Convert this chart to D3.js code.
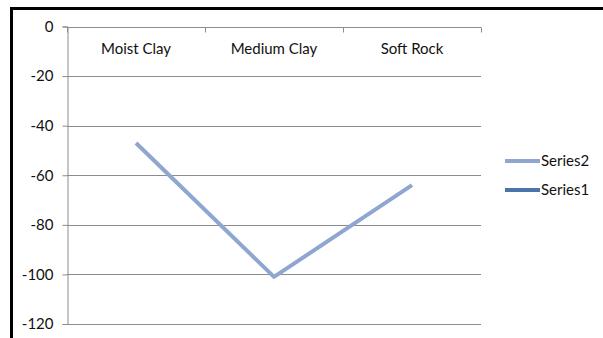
<!DOCTYPE html>
<html>
<head>
<meta charset="utf-8">
<script src="https://cdn.jsdelivr.net/npm/d3@7"></script>
<style>
  html, body { margin: 0; padding: 0; background: #fff; }
  svg { display: block; }
  text { font-family: Lato, "Open Sans", sans-serif; font-size: 15px; fill: #111; }
</style>
</head>
<body>
<svg id="chart" width="603" height="338"></svg>
<script>
// Chart data
const categories = ["Moist Clay", "Medium Clay", "Soft Rock"];
const series2 = [-47, -101, -64];
const series1 = [null, null, null];
const yTicks = [0, -20, -40, -60, -80, -100, -120];
const legendNames = ["Series2", "Series1"];
const legendColors = ["#8EA6D0", "#4A74AA"];

const svg = d3.select("#chart");

// Frame around the chart
svg.append("rect")
  .attr("x", 11.5).attr("y", 8.5)
  .attr("width", 620).attr("height", 360)
  .attr("fill", "#fff")
  .attr("stroke", "#000")
  .attr("stroke-width", 3);

const plot = { left: 67, right: 481, top: 26.5, bottom: 324 };

const x = d3.scaleBand()
  .domain(categories)
  .range([plot.left, plot.right]);

const y = d3.scaleLinear()
  .domain([0, -120])
  .range([plot.top, plot.bottom]);

// Horizontal gridlines
svg.append("g")
  .selectAll("line")
  .data(yTicks.filter(d => d !== 0))
  .join("line")
  .attr("x1", plot.left).attr("x2", plot.right)
  .attr("y1", d => Math.round(y(d)) + 0.5)
  .attr("y2", d => Math.round(y(d)) + 0.5)
  .attr("stroke", "#8c8c8c")
  .attr("stroke-width", 1);

// Value axis on the left
const yAxis = svg.append("g")
  .attr("transform", `translate(${plot.left + 0.5},0)`)
  .call(d3.axisLeft(y).tickValues(yTicks).tickSize(5).tickPadding(9).tickFormat(d => String(d)));
yAxis.select(".domain").attr("stroke", "#8c8c8c");
yAxis.selectAll(".tick line").attr("stroke", "#8c8c8c");
yAxis.selectAll(".tick text")
  .style("font-family", 'Lato, "Open Sans", sans-serif')
  .style("font-size", "15px")
  .attr("fill", "#111");

// Category axis along the zero line
const xAxisG = svg.append("g")
  .attr("transform", `translate(0,${Math.round(y(0)) + 0.5})`);
xAxisG.append("line")
  .attr("x1", plot.left).attr("x2", plot.right)
  .attr("stroke", "#8c8c8c");
const boundaries = categories.map(c => x(c)).concat([x.range()[1]]);
xAxisG.selectAll("line.cat-tick")
  .data(boundaries)
  .join("line")
  .attr("class", "cat-tick")
  .attr("x1", d => Math.round(d) + 0.5).attr("x2", d => Math.round(d) + 0.5)
  .attr("y1", 0).attr("y2", 5)
  .attr("stroke", "#8c8c8c");
xAxisG.selectAll("text")
  .data(categories)
  .join("text")
  .attr("x", d => x(d) + x.bandwidth() / 2)
  .attr("y", 26)
  .attr("text-anchor", "middle")
  .text(d => d);

// Series lines
const line = d3.line()
  .defined(d => d.v !== null)
  .x(d => x(d.c) + x.bandwidth() / 2)
  .y(d => y(d.v));

[[series1, legendColors[1]], [series2, legendColors[0]]].forEach(([vals, color]) => {
  svg.append("path")
    .datum(categories.map((c, i) => ({ c, v: vals[i] })))
    .attr("d", line)
    .attr("fill", "none")
    .attr("stroke", color)
    .attr("stroke-width", 4)
    .attr("stroke-linejoin", "round");
});

// Legend
const legend = svg.append("g").attr("transform", "translate(505,161)");
legendNames.forEach((name, i) => {
  const g = legend.append("g").attr("transform", `translate(0,${i * 29})`);
  g.append("line")
    .attr("x1", 0).attr("x2", 35)
    .attr("stroke", legendColors[i])
    .attr("stroke-width", 4);
  g.append("text")
    .attr("x", 36).attr("y", 5)
    .text(name);
});
</script>
</body>
</html>
